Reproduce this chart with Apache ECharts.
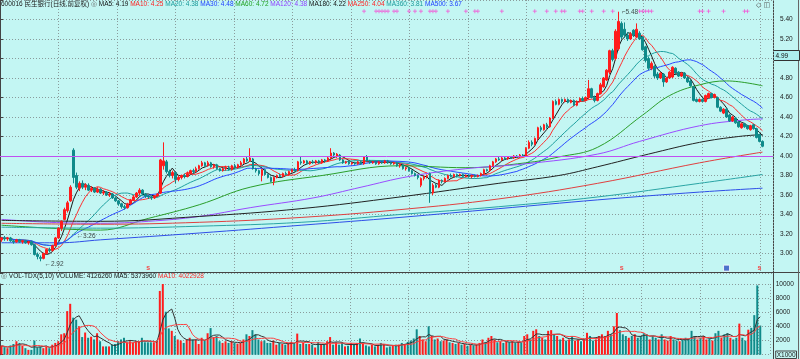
<!DOCTYPE html>
<html><head><meta charset="utf-8">
<script src="https://cdn.jsdelivr.net/npm/echarts@6/dist/echarts.min.js"></script>
<style>html,body{margin:0;padding:0;background:#c3f6f3}#c{width:800px;height:359px}</style>
</head><body><div id="c"></div>
<script>
// ---- data ----
const opens = [
3.14,3.16,3.15,3.16,3.13,3.12,3.14,3.12,3.13,3.11,
3.12,3.09,2.99,2.96,2.95,3.00,3.04,3.03,3.08,3.16,
3.26,3.35,3.44,3.54,4.06,3.80,3.67,3.72,3.68,3.70,
3.65,3.67,3.63,3.66,3.62,3.63,3.60,3.61,3.57,3.54,
3.51,3.48,3.47,3.51,3.55,3.58,3.62,3.65,3.61,3.59,
3.58,3.57,3.59,3.62,3.90,3.94,3.84,3.80,3.83,3.76,
3.78,3.80,3.79,3.82,3.85,3.84,3.87,3.90,3.93,3.90,
3.93,3.89,3.91,3.87,3.85,3.87,3.88,3.86,3.90,3.88,
3.91,3.93,3.97,3.95,3.97,3.87,3.85,3.80,3.86,3.81,
3.78,3.74,3.78,3.80,3.79,3.82,3.81,3.84,3.86,3.85,
3.94,3.93,3.95,3.92,3.94,3.93,3.95,3.93,3.96,3.95,
3.98,4.03,4.00,4.01,3.96,3.93,3.94,3.92,3.93,3.92,
3.94,3.92,3.99,3.95,3.93,3.94,3.92,3.94,3.93,3.95,
3.93,3.92,3.93,3.90,3.91,3.87,3.88,3.85,3.82,3.80,
3.70,3.77,3.79,3.82,3.62,3.70,3.68,3.75,3.74,3.77,
3.80,3.79,3.81,3.80,3.81,3.79,3.80,3.79,3.80,3.79,
3.80,3.82,3.86,3.85,3.90,3.94,3.97,3.96,3.98,3.97,
3.99,3.98,4.00,3.99,4.01,4.00,4.08,4.14,4.12,4.18,
4.29,4.27,4.32,4.30,4.39,4.56,4.53,4.58,4.56,4.58,
4.55,4.57,4.52,4.56,4.59,4.57,4.60,4.69,4.60,4.57,
4.64,4.71,4.78,4.86,5.08,5.00,5.10,5.36,5.30,5.24,
5.20,5.29,5.22,5.26,5.22,5.12,5.00,4.90,4.92,4.84,
4.80,4.84,4.76,4.80,4.81,4.90,4.86,4.82,4.85,4.80,
4.77,4.71,4.58,4.56,4.58,4.56,4.60,4.64,4.60,4.60,
4.50,4.44,4.48,4.42,4.36,4.39,4.35,4.29,4.33,4.31,
4.27,4.32,4.28,4.22,4.15];
const closes = [
3.16,3.15,3.16,3.13,3.12,3.14,3.12,3.13,3.11,3.12,
3.09,2.99,2.97,2.95,3.00,3.04,3.03,3.08,3.16,3.26,
3.33,3.45,3.52,3.68,3.78,3.68,3.72,3.68,3.70,3.65,
3.67,3.63,3.66,3.62,3.63,3.60,3.61,3.57,3.54,3.51,
3.48,3.47,3.51,3.55,3.58,3.62,3.65,3.61,3.59,3.58,
3.57,3.59,3.61,3.96,3.95,3.84,3.80,3.83,3.76,3.78,
3.80,3.79,3.82,3.85,3.84,3.87,3.90,3.93,3.90,3.93,
3.89,3.91,3.87,3.85,3.87,3.88,3.86,3.90,3.88,3.91,
3.93,3.97,3.95,3.98,3.87,3.85,3.82,3.86,3.81,3.78,
3.74,3.78,3.80,3.79,3.82,3.81,3.84,3.86,3.85,3.94,
3.93,3.95,3.92,3.94,3.93,3.95,3.93,3.96,3.95,3.98,
4.03,4.01,4.02,3.96,3.93,3.94,3.92,3.93,3.92,3.94,
3.92,3.99,3.95,3.93,3.94,3.92,3.94,3.93,3.95,3.93,
3.92,3.93,3.90,3.91,3.87,3.88,3.85,3.82,3.80,3.78,
3.77,3.79,3.80,3.62,3.70,3.68,3.75,3.74,3.77,3.80,
3.79,3.81,3.80,3.81,3.79,3.80,3.79,3.80,3.79,3.80,
3.82,3.86,3.85,3.90,3.94,3.97,3.96,3.98,3.97,3.99,
3.98,4.00,3.99,4.01,4.00,4.08,4.14,4.12,4.18,4.29,
4.27,4.32,4.30,4.39,4.56,4.53,4.58,4.56,4.58,4.55,
4.57,4.52,4.56,4.59,4.57,4.60,4.69,4.60,4.57,4.64,
4.73,4.80,4.88,5.08,4.99,5.28,5.38,5.22,5.24,5.20,
5.25,5.24,5.30,5.20,5.09,4.98,4.90,4.95,4.82,4.80,
4.85,4.76,4.80,4.86,4.91,4.85,4.82,4.85,4.80,4.76,
4.72,4.57,4.56,4.58,4.56,4.62,4.64,4.60,4.63,4.50,
4.46,4.48,4.40,4.36,4.40,4.34,4.30,4.33,4.30,4.28,
4.31,4.28,4.19,4.15,4.10];
const lows = [
3.12,3.13,3.13,3.12,3.10,3.11,3.11,3.10,3.10,3.09,
3.08,2.98,2.94,2.92,2.94,2.99,3.01,3.02,3.07,3.15,
3.23,3.34,3.42,3.53,3.72,3.66,3.64,3.66,3.65,3.64,
3.63,3.62,3.62,3.61,3.60,3.59,3.58,3.56,3.53,3.49,
3.46,3.45,3.46,3.50,3.54,3.57,3.60,3.60,3.57,3.56,
3.55,3.56,3.58,3.61,3.86,3.82,3.78,3.77,3.72,3.74,
3.76,3.77,3.78,3.81,3.82,3.83,3.86,3.89,3.89,3.89,
3.88,3.87,3.86,3.84,3.84,3.85,3.85,3.85,3.87,3.87,
3.90,3.92,3.94,3.94,3.86,3.83,3.80,3.74,3.80,3.77,
3.73,3.70,3.77,3.78,3.78,3.80,3.80,3.83,3.84,3.84,
3.91,3.92,3.91,3.91,3.92,3.92,3.92,3.92,3.93,3.94,
3.97,3.99,3.98,3.95,3.92,3.92,3.91,3.91,3.91,3.91,
3.91,3.91,3.94,3.92,3.92,3.91,3.91,3.92,3.92,3.92,
3.91,3.91,3.89,3.88,3.86,3.85,3.84,3.81,3.79,3.76,
3.68,3.75,3.77,3.52,3.60,3.67,3.67,3.72,3.73,3.76,
3.78,3.78,3.78,3.79,3.78,3.78,3.78,3.77,3.78,3.78,
3.79,3.81,3.84,3.84,3.89,3.93,3.95,3.95,3.96,3.96,
3.97,3.97,3.98,3.98,3.99,3.99,4.07,4.10,4.11,4.16,
4.25,4.26,4.28,4.29,4.38,4.52,4.52,4.54,4.55,4.54,
4.54,4.51,4.51,4.55,4.56,4.56,4.58,4.59,4.55,4.56,
4.63,4.70,4.77,4.84,4.97,4.98,5.08,5.20,5.21,5.18,
5.19,5.22,5.21,5.19,5.08,4.96,4.88,4.88,4.80,4.78,
4.79,4.71,4.75,4.79,4.80,4.84,4.81,4.81,4.79,4.75,
4.71,4.56,4.55,4.55,4.55,4.55,4.59,4.59,4.59,4.49,
4.45,4.43,4.39,4.35,4.35,4.33,4.29,4.28,4.29,4.27,
4.26,4.27,4.18,4.14,4.09];
const highs = [
3.17,3.18,3.17,3.17,3.14,3.15,3.15,3.14,3.14,3.13,
3.13,3.10,3.01,2.98,3.01,3.05,3.06,3.09,3.17,3.27,
3.34,3.47,3.54,3.70,4.08,3.83,3.74,3.75,3.72,3.72,
3.69,3.68,3.68,3.67,3.65,3.64,3.63,3.62,3.58,3.55,
3.52,3.50,3.52,3.56,3.60,3.63,3.67,3.66,3.62,3.60,
3.59,3.60,3.62,3.97,4.14,3.96,3.86,3.85,3.84,3.80,
3.81,3.82,3.84,3.86,3.87,3.89,3.91,3.95,3.94,3.95,
3.94,3.92,3.92,3.88,3.88,3.90,3.90,3.91,3.92,3.92,
3.95,3.98,3.99,4.08,3.98,3.88,3.86,3.87,3.87,3.82,
3.79,3.79,3.81,3.82,3.83,3.84,3.85,3.87,3.88,3.95,
4.00,3.96,3.96,3.95,3.96,3.96,3.96,3.97,3.97,3.99,
4.08,4.04,4.03,4.02,3.97,3.95,3.95,3.94,3.94,3.95,
3.95,4.00,4.01,3.96,3.95,3.95,3.95,3.95,3.96,3.96,
3.94,3.94,3.94,3.92,3.92,3.89,3.89,3.86,3.83,3.81,
3.78,3.80,3.81,3.83,3.72,3.72,3.76,3.76,3.78,3.81,
3.82,3.82,3.82,3.82,3.82,3.81,3.81,3.81,3.81,3.81,
3.83,3.87,3.87,3.91,3.95,3.98,3.99,3.99,3.99,4.00,
4.00,4.01,4.01,4.02,4.02,4.09,4.16,4.16,4.19,4.30,
4.31,4.33,4.34,4.40,4.57,4.58,4.59,4.59,4.59,4.59,
4.58,4.58,4.57,4.60,4.61,4.61,4.78,4.70,4.62,4.65,
4.75,4.81,4.89,5.09,5.10,5.30,5.48,5.38,5.37,5.27,
5.27,5.30,5.36,5.28,5.23,5.13,5.02,4.97,4.93,4.86,
4.86,4.85,4.81,4.87,4.92,4.91,4.87,4.86,4.86,4.81,
4.78,4.72,4.59,4.59,4.59,4.63,4.65,4.65,4.64,4.61,
4.51,4.49,4.49,4.43,4.41,4.40,4.36,4.34,4.34,4.32,
4.32,4.33,4.29,4.23,4.16];
// volume in units of 1000 shares
const volumes = [
1270,1080,930,1320,1520,1910,1670,1270,930,690,
690,2010,1030,1130,930,1180,930,1420,1670,1910,
2890,3040,6170,7200,5240,4950,4020,2500,3140,2400,
2550,2160,3040,1910,1180,1180,1180,1420,1520,1910,
2160,2400,1760,1910,1670,1910,1810,2400,1760,1760,
1760,1760,1910,9020,10100,6080,3720,3380,2650,2160,
2010,1670,2160,2400,2160,2160,1520,2400,2010,3040,
3770,2500,2650,1910,1670,1910,1670,1910,1670,1570,
1670,2160,2890,2650,3480,2890,2160,1910,2010,1670,
1670,2010,1420,1670,1520,1420,1670,1810,1670,2990,
1520,1670,1520,1520,1420,1030,1810,1520,1420,1910,
2500,1420,1760,1420,1670,1180,1270,1670,1420,1670,
2300,1520,1320,1180,1420,1180,1420,1670,1420,1030,
1180,1320,1420,1420,1670,1520,1810,2010,2300,3600,
2650,2160,1910,4020,2650,2160,2300,1910,2010,2160,
1760,1670,1520,1670,1420,1520,1270,1420,1320,1420,
1670,2160,1810,2400,2650,2160,1760,1910,1670,1810,
1760,1910,1670,1810,1670,2650,2890,2160,3380,3600,
2650,2400,2160,3380,3480,2900,2650,2160,2400,2010,
2160,2650,2010,2160,1910,2160,3100,2650,2010,2160,
2650,2890,2650,3380,2890,4020,5900,3480,2890,2650,
2400,2650,2900,2400,2650,3040,2890,2160,2650,2400,
2160,2890,2160,2010,2650,2160,2010,1910,2160,2400,
2300,3380,2650,2160,2400,2650,2160,2300,2010,3040,
3380,2400,2890,3040,2400,2160,2400,4400,2400,2000,
3544,3800,5600,9800,4126];
// long moving averages: [candle index, value]
const ma60 = [[0,3.29],[16,3.26],[33,3.24],[49,3.36],[66,3.50],[83,3.68],[107,3.80],[133,3.90],[155,3.88],[175,3.93],[186,3.99],[199,4.09],[214,4.42],[223,4.62],[233,4.73],[242,4.77],[254,4.72]];
const ma120 = [[0,3.35],[16,3.32],[33,3.31],[49,3.33],[66,3.38],[83,3.47],[104,3.57],[120,3.68],[136,3.79],[155,3.87],[175,3.92],[199,4.02],[213,4.15],[233,4.31],[248,4.37],[254,4.38]];
const ma180 = [[0,3.34],[33,3.33],[66,3.38],[100,3.46],[133,3.58],[166,3.72],[186,3.80],[199,3.89],[216,4.02],[233,4.14],[246,4.20],[254,4.22]];
const ma250 = [[0,3.31],[33,3.30],[66,3.32],[100,3.37],[133,3.45],[166,3.56],[199,3.72],[233,3.93],[254,4.04]];
const ma360 = [[0,3.27],[33,3.26],[66,3.28],[100,3.32],[133,3.40],[166,3.48],[199,3.58],[233,3.72],[254,3.81]];
const ma500 = [[0,3.11],[19,3.11],[33,3.14],[66,3.21],[100,3.29],[133,3.37],[166,3.46],[199,3.55],[233,3.63],[254,3.67]];
// signal markers (candle indices)
const plusIdx = [121,125,126,127,128,129,131,132,136,138,140,143,144,145,149,155,158,159,167,178,182,185,187,188,193,194,197,201,204,213,214,215,216,217,233,234,236,241,248,249];
const sIdx = [49,207,253];
const boxIdx = [242];
const priceTicks = [5.4,5.2,5.0,4.8,4.6,4.4,4.2,4.0,3.8,3.6,3.4,3.2,3.0];
const slots = 258;

// ---- build ----
const cats = []; for (let i = 0; i < slots; i++) cats.push(String(i + 1));
function movAvg(a, n) { const o = []; for (let i = 0; i < a.length; i++) { const s = Math.max(0, i - n + 1); let t = 0; for (let j = s; j <= i; j++) t += a[j]; o.push(+(t / (i - s + 1)).toFixed(3)); } return o; }
const UP = '#ff1c1c', DN = '#0f8a8a';
const kdata = opens.map((o, i) => [o, closes[i], lows[i], highs[i]]);
const vdata = volumes.map((v, i) => ({ value: v, itemStyle: { color: closes[i] >= opens[i] ? UP : DN } }));
const F = 'Liberation Sans, Arial, Noto Sans CJK SC, sans-serif';
const FS = 6.5;
const gridLine = { show: true, lineStyle: { color: '#8a9c9c', width: 1, type: [1, 2] } };
function line(name, data, color, xi, yi, smooth) {
  return { name, type: 'line', data, xAxisIndex: xi, yAxisIndex: yi, showSymbol: false, symbol: 'none', smooth: smooth || false, lineStyle: { color, width: 1 }, silent: true, z: 3 };
}
const chart = echarts.init(document.getElementById('c'), null, { renderer: 'canvas' });
chart.setOption({
  animation: false,
  backgroundColor: '#c3f6f3',
  textStyle: { fontFamily: F },
  grid: [
    { left: 0, right: 27, top: 0, height: 273 },
    { left: 0, right: 27, top: 284, height: 71 }
  ],
  xAxis: [
    { type: 'category', gridIndex: 0, data: cats, boundaryGap: true, axisLine: { show: false }, axisTick: { show: false }, axisLabel: { show: false }, splitLine: { show: false } },
    { type: 'category', gridIndex: 1, data: cats, boundaryGap: true, axisLine: { show: false }, axisTick: { show: false }, axisLabel: { show: false }, splitLine: { show: false } },
    { type: 'value', gridIndex: 0, min: 0, max: 773, interval: 58.5, axisLine: { show: false }, axisTick: { show: false }, axisLabel: { show: false }, splitLine: gridLine },
    { type: 'value', gridIndex: 1, min: 0, max: 773, interval: 58.5, axisLine: { show: false }, axisTick: { show: false }, axisLabel: { show: false }, splitLine: gridLine }
  ],
  yAxis: [
    { type: 'value', gridIndex: 0, position: 'right', min: 2.8, max: 5.6, interval: 0.2,
      axisLine: { show: true, lineStyle: { color: '#444' } }, axisTick: { show: true, length: 3, lineStyle: { color: '#444' } },
      axisLabel: { fontSize: FS, color: '#1a1a1a', margin: 7, fontFamily: F,
        formatter: v => (priceTicks.some(t => Math.abs(t - v) < 0.001) && Math.abs(v - 5.0) > 0.001) ? v.toFixed(2) : '' },
      splitLine: gridLine },
    { type: 'value', gridIndex: 1, position: 'right', min: 0, max: 10000, interval: 2000,
      axisLine: { show: true, lineStyle: { color: '#444' } }, axisTick: { show: true, length: 3, lineStyle: { color: '#444' } },
      axisLabel: { fontSize: FS, color: '#1a1a1a', margin: 5, fontFamily: F,
        formatter: v => v === 0 ? '{u|X1000}' : String(v),
        rich: { u: { fontSize: FS, color: '#1a1a1a', borderColor: '#444', borderWidth: 1, padding: [1, 1, 0, 1], verticalAlign: 'bottom' } } },
      splitLine: gridLine }
  ],
  series: [
    { name: 'K', type: 'candlestick', data: kdata, xAxisIndex: 0, yAxisIndex: 0, barWidth: 2, z: 4,
      itemStyle: { color: UP, color0: DN, borderColor: UP, borderColor0: DN, borderWidth: 1 },
      markLine: { silent: true, symbol: 'none', label: { show: false }, lineStyle: { color: '#c050f0', width: 1, type: 'solid' }, data: [{ yAxis: 4.0 }] } },
    line('MA5', movAvg(closes, 5), '#1a1a1a', 0, 0),
    line('MA10', movAvg(closes, 10), '#ff3030', 0, 0),
    line('MA20', movAvg(closes, 20), '#1fa0a0', 0, 0),
    line('MA30', movAvg(closes, 30), '#2a48ff', 0, 0),
    line('MA60', ma60, '#2a9e2a', 0, 0, 0.4),
    line('MA120', ma120, '#9a4cff', 0, 0, 0.4),
    line('MA180', ma180, '#222222', 0, 0, 0.4),
    line('MA250', ma250, '#e04040', 0, 0, 0.4),
    line('MA360', ma360, '#2aa5a5', 0, 0, 0.4),
    line('MA500', ma500, '#2f4fe8', 0, 0, 0.4),
    { name: 'sig', type: 'scatter', xAxisIndex: 0, yAxisIndex: 0, data: plusIdx.map(i => [i, 5.485]), silent: true,
      symbol: 'path://M2,0H3V2H5V3H3V5H2V3H0V2H2Z', symbolSize: 4, itemStyle: { color: '#ff30d0' }, z: 5 },
    { name: 's', type: 'scatter', xAxisIndex: 0, yAxisIndex: 0, data: sIdx.map(i => [i, 2.85]), silent: true, symbolSize: 0,
      label: { show: true, formatter: 's', color: '#ff2020', fontSize: 7, fontWeight: 'bold', position: 'inside' }, z: 5 },
    { name: 'box', type: 'scatter', xAxisIndex: 0, yAxisIndex: 0, data: boxIdx.map(i => [i, 2.85]), silent: true, symbol: 'rect', symbolSize: 6,
      itemStyle: { color: '#3050c0', borderColor: '#ffffff', borderWidth: 1 }, z: 5 },
    { name: 'notes', type: 'scatter', xAxisIndex: 0, yAxisIndex: 0, silent: true, symbolSize: 0, z: 6,
      data: [
        { value: [206, 5.48], label: { formatter: '⌐5.48', position: 'right', offset: [-2, 1] } },
        { value: [13, 2.92], label: { formatter: '←2.92', position: 'right', offset: [-1, 3] } },
        { value: [20, 3.23], label: { formatter: '←3.26', position: 'right', offset: [10, 5] } }
      ],
      label: { show: true, color: '#1a1a1a', fontSize: FS, fontFamily: F } },
    { name: 'VOL', type: 'bar', xAxisIndex: 1, yAxisIndex: 1, data: vdata, barWidth: 2, silent: true, z: 2 },
    line('VMA5', movAvg(volumes, 5), '#333333', 1, 1),
    line('VMA10', movAvg(volumes, 10), '#ff4040', 1, 1)
  ],
  graphic: [
    { type: 'text', left: 1, top: 1, style: { text: '{a|600016 民生银行(日线,前复权)} {g|◎} {k|MA5: 4.19} {r|MA10: 4.25} {t|MA20: 4.38} {b|MA30: 4.48} {gr|MA60: 4.72} {p|MA120: 4.38} {k|MA180: 4.22} {r|MA250: 4.04} {t|MA360: 3.81} {b|MA500: 3.67}',
      font: FS + 'px ' + F,
      rich: { a: { fill: '#1a1a1a', fontSize: FS, fontFamily: 'Liberation Sans, Noto Sans CJK SC' }, g: { fill: '#666', fontSize: FS }, k: { fill: '#111', fontSize: FS }, r: { fill: '#ff2020', fontSize: FS }, t: { fill: '#1a9a9a', fontSize: FS }, b: { fill: '#2040ff', fontSize: FS }, gr: { fill: '#20a020', fontSize: FS }, p: { fill: '#9040ff', fontSize: FS } } } },
    { type: 'text', left: 1, top: 273, style: { text: '{g|◎} {k|VOL-TDX(5,10) VOLUME: 4126260 MA5: 5373960} {r|MA10: 4022928}', font: FS + 'px ' + F,
      rich: { g: { fill: '#666', fontSize: FS }, k: { fill: '#111', fontSize: FS }, r: { fill: '#ff2020', fontSize: FS } } } },
    { type: 'text', left: 756, top: 2, style: { text: '◇ ◫', fill: '#555', font: '7px DejaVu Sans' } },
    { type: 'line', shape: { x1: 773.5, y1: 0, x2: 773.5, y2: 359 }, style: { stroke: '#444', lineWidth: 1 } },
    { type: 'line', shape: { x1: 0, y1: 272.5, x2: 800, y2: 272.5 }, style: { stroke: '#444', lineWidth: 1 } },
    { type: 'line', shape: { x1: 798.5, y1: 0, x2: 798.5, y2: 359 }, style: { stroke: '#666', lineWidth: 1 } },
    { type: 'group', left: 773, top: 50, children: [
      { type: 'rect', shape: { x: 0, y: 0, width: 26, height: 10 }, style: { fill: '#aef0f0', stroke: '#333', lineWidth: 1 } },
      { type: 'text', x: 2, y: 2, style: { text: '4.99', fill: '#111', font: FS + 'px ' + F } }
    ] }
  ]
});
</script></body></html>
